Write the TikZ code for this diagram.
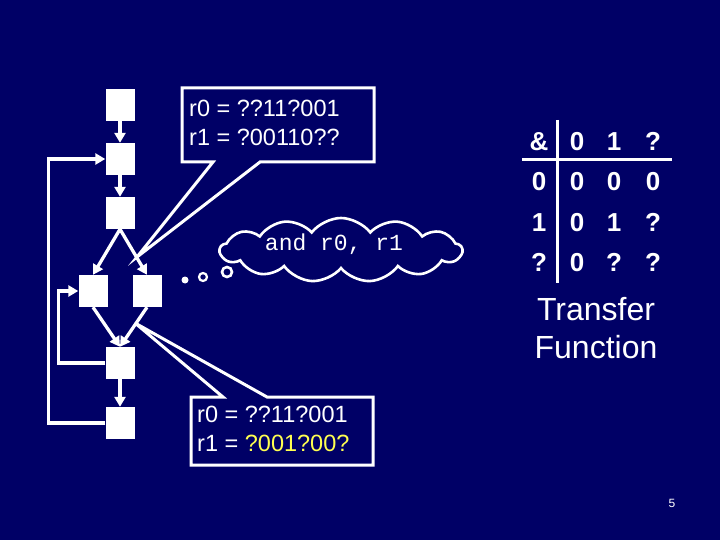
\documentclass[tikz,border=0pt]{standalone}
\usepackage{fontspec}
\setmainfont{Liberation Sans}
\setmonofont{Liberation Mono}
\usetikzlibrary{shapes,arrows.meta,positioning,calc}
\definecolor{slidebg}{RGB}{0,0,102}
\definecolor{hilite}{RGB}{255,255,80}
\tikzset{
  blk/.style={fill=white, minimum width=29pt, minimum height=32pt, inner sep=0pt},
  flow/.style={white, line width=3.3pt, line join=miter, -{Triangle[length=10pt,width=11pt]}},
  callout/.style={draw=white, fill=slidebg, line width=3pt, line join=miter},
  calltext/.style={white, align=left, inner sep=0pt, font=\fontsize{23.5}{29}\selectfont},
  tblcell/.style={white, anchor=base, inner sep=0pt, font=\fontsize{26}{30}\selectfont\bfseries},
}

\begin{document}
\begin{tikzpicture}[x=1pt,y=-1pt]
    \fill[slidebg] (0,0) rectangle (720,540);
    \useasboundingbox (0,0) rectangle (720,540);

    % Callouts
    \coordinate (tip1) at (137,257);
    \coordinate (tip2) at (135,323);
    \draw[callout] (182,88) -- (374,88) -- (374,162) -- (260,162) -- (tip1) -- (213,162) -- (182,162) -- cycle;
    \node[calltext, anchor=north west] (note1) at (189,100) {r0 = ??11?001\\r1 = ?00110??};
    \draw[callout] (191,397) -- (223,397) -- (tip2) -- (267,397) -- (373,397) -- (373,465) -- (191,465) -- cycle;
    \node[calltext, anchor=north west] (note2) at (197,406) {r0 = ??11?001\\r1 = \textcolor{hilite}{?001?00?}};

    % Flow graph
    \node[blk] (b1) at (120,105) {};
    \node[blk] (b2) at (120,159) {};
    \node[blk] (b3) at (120,213) {};
    \node[blk] (b4l) at (93,291) {};
    \node[blk] (b4r) at (147,291) {};
    \node[blk] (b5) at (120,363) {};
    \node[blk] (b6) at (120,423) {};
    \draw[flow] (b1) -- (b2);
    \draw[flow] (b2) -- (b3);
    \draw[flow] (b3.south) -- (b4l.north);
    \draw[flow] (b3.south) -- (b4r.north);
    \draw[flow] (b4l.south) -- (b5.north);
    \draw[flow] (b4r.south) -- (b5.north);
    \draw[flow] (b5) -- (b6);
    \draw[flow] (b6.west) -- ++(-57,0) |- (b2.west);
    \draw[flow] (b5.west) -- ++(-47,0) |- (b4l.west);

    % Thought bubble
    \node[cloud, draw=white, line width=2.6pt, cloud puffs=13, cloud puff arc=105, aspect=4.2,
          minimum width=242pt, minimum height=64pt, inner sep=0pt] (thought) at (341,250) {};
    \node[white, anchor=base, inner sep=0pt, font=\ttfamily\fontsize{23}{26}\selectfont] (optext) at (334,251) {and r0, r1};
    \node[circle, fill=white, minimum size=7pt, inner sep=0pt] (dot1) at (185,280) {};
    \node[circle, draw=white, line width=2.2pt, minimum size=8pt, inner sep=0pt] (dot2) at (203,277) {};
    \node[circle, draw=white, line width=2.6pt, minimum size=10pt, inner sep=0pt] (dot3) at (227,272) {};

    % Transfer function table
    \foreach [count=\i] \a/\b/\c/\d in {\&/0/1/?, 0/0/0/0, 1/0/1/?, ?/0/?/?} {
        \node[tblcell] (t\i-1) at (539,111+40*\i) {\a};
        \node[tblcell] (t\i-2) at (577,111+40*\i) {\b};
        \node[tblcell] (t\i-3) at (614,111+40*\i) {\c};
        \node[tblcell] (t\i-4) at (653,111+40*\i) {\d};
    }
    \draw[white, line width=3pt] (522,160) -- (672,160);
    \draw[white, line width=3pt] (557,120) -- (557,283);
    \node[white, anchor=north, inner sep=0pt, align=center, font=\fontsize{32}{38}\selectfont] (tf) at (596,297) {Transfer\\Function};

    \node[white, font=\fontsize{12}{14}\selectfont] (pgno) at (672,503) {5};
\end{tikzpicture}
\end{document}
